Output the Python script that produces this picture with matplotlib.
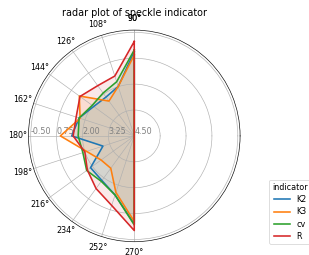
import numpy as np
import matplotlib.pyplot as plt

angles_deg = [90, 108, 126, 144, 162, 180, 198, 216, 234, 252, 270]
indicators = ['K2', 'K3', 'cv', 'R']
K2 = [0.43, 1.99, 2.18, 2.08, 1.70, 1.48, 2.91, 1.89, 1.84, 1.50, 0.25]
K3 = [0.59, 1.99, 2.42, 1.22, 1.75, 0.93, 2.08, 2.52, 2.57, 1.63, 0.37]
cv = [0.35, 1.75, 1.94, 1.99, 1.70, 1.79, 1.89, 1.66, 1.79, 1.50, 0.20]
R = [-0.06, 1.46, 1.50, 1.26, 1.55, 1.55, 1.99, 1.70, 1.36, 0.97, -0.07]
rticks = [-0.5, 0.75, 2.0, 3.25, 4.5]

DPI = 57.4
fig = plt.figure(figsize=(309 / DPI, 255 / DPI), dpi=DPI)
ax = fig.add_axes([0.092, 0.052, 0.685, 0.83], polar=True)

theta = np.deg2rad(angles_deg + angles_deg[:1])
for name, vals in zip(indicators, [K2, K3, cv, R]):
    r = vals + vals[:1]
    line, = ax.plot(theta, r, label=name, lw=2.0)
    ax.fill(theta, r, color=line.get_color(), alpha=0.1)

ax.set_thetagrids(np.rad2deg(theta))
ax.set_rlabel_position(180)
ax.set_yticks(rticks, [f'{t:.2f}' for t in rticks], color='grey', size=10)
ax.set_ylim(4.5, -0.61)
ax.set_title('radar plot of speckle indicator', y=1.045)
ax.legend(title='indicator', loc='lower left', bbox_to_anchor=(0.871, 0.043),
          bbox_transform=fig.transFigure, borderaxespad=0, labelspacing=0.4)

fig.savefig('out.png', dpi=DPI)
